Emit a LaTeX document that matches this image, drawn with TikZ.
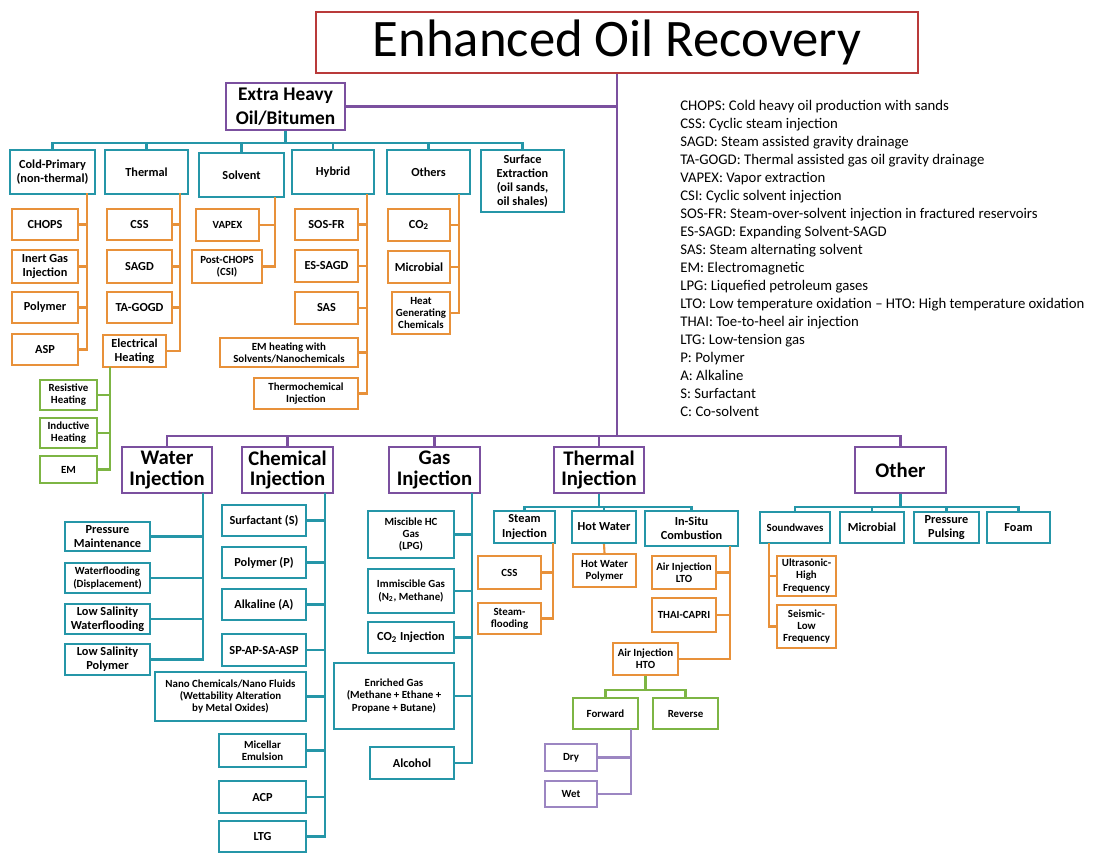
\documentclass[tikz,border=0pt]{standalone}
\usepackage{fontspec}
\setmainfont{Carlito}

\definecolor{eorred}{HTML}{B93A3A}
\definecolor{epurple}{HTML}{7B509F}
\definecolor{eteal}{HTML}{2596A8}
\definecolor{eorange}{HTML}{E8913A}
\definecolor{egreen}{HTML}{7DB544}
\definecolor{elilac}{HTML}{9C86C2}

\begin{document}
\begin{tikzpicture}[x=0.02cm,y=-0.02cm,
    wh/.style 2 args={minimum width=#1*0.02cm,minimum height=#2*0.02cm},
    lbl/.style={draw,rectangle,line width=1.3pt,align=center,inner sep=0.5pt,
      font=\bfseries\fontsize{7}{8}\selectfont},
    sm/.style={font=\bfseries\fontsize{6.2}{6.9}\selectfont},
    pbox/.style={lbl,draw=epurple,font=\bfseries\fontsize{11.8}{11.8}\selectfont},
    tbox/.style={lbl,draw=eteal},
    obox/.style={lbl,draw=eorange},
    gbox/.style={lbl,draw=egreen},
    lbox/.style={lbl,draw=elilac},
    pl/.style={epurple,line width=1.2pt},
    tl/.style={eteal,line width=1.2pt},
    ol/.style={eorange,line width=1.2pt},
    gl/.style={egreen,line width=1.2pt},
    ll/.style={elilac,line width=1.2pt}]
  \useasboundingbox (0,0) rectangle (1102,853);

  % title and main trunk
  \node[lbl,draw=eorred,wh={602}{61},font=\fontsize{30}{32}\selectfont] (eor) at (617,42.5) {Enhanced Oil Recovery};
  \node[pbox,wh={119}{47},font=\bfseries\fontsize{11}{14}\selectfont] (xh) at (285.5,106.5) {Extra Heavy\\Oil/Bitumen};
  \coordinate (busB) at (617,436);
  \draw[pl] (eor.south) -- (busB);
  \draw[pl] (xh.east) -- (xh.east -| eor.south);

  % legend
  \node[anchor=north west,align=left,inner sep=0pt,font=\fontsize{8.4}{10.25}\selectfont] (legend) at (680,100) {%
    CHOPS: Cold heavy oil production with sands\\
    CSS: Cyclic steam injection\\
    SAGD: Steam assisted gravity drainage\\
    TA-GOGD: Thermal assisted gas oil gravity drainage\\
    VAPEX: Vapor extraction\\
    CSI: Cyclic solvent injection\\
    SOS-FR: Steam-over-solvent injection in fractured reservoirs\\
    ES-SAGD: Expanding Solvent-SAGD\\
    SAS: Steam alternating solvent\\
    EM: Electromagnetic\\
    LPG: Liquefied petroleum gases\\
    LTO: Low temperature oxidation -- HTO: High temperature oxidation\\
    THAI: Toe-to-heel air injection\\
    LTG: Low-tension gas\\
    P: Polymer\\
    A: Alkaline\\
    S: Surfactant\\
    C: Co-solvent};

  % extra heavy oil / bitumen
  \node[tbox,wh={85}{44}] (cold) at (52.5,172) {Cold-Primary\\(non-thermal)};
  \node[tbox,wh={83}{44}] (thermal) at (146.5,172) {Thermal};
  \node[tbox,wh={85}{44}] (solvent) at (241.5,175) {Solvent};
  \node[tbox,wh={82}{44}] (hybrid) at (333,172) {Hybrid};
  \node[tbox,wh={83}{44}] (others) at (428.5,172) {Others};
  \node[tbox,wh={83}{62}] (surface) at (522.5,181) {Surface\\Extraction\\(oil sands,\\oil shales)};
  \coordinate (xhB) at (285.5,143);
  \draw[tl] (xh.south) -- (xhB);
  \foreach \n in {cold,thermal,solvent,hybrid,others,surface}
    \draw[tl] (\n.north) |- (xhB);

  \node[obox,wh={66}{31}] (chops) at (45,224.5) {CHOPS};
  \node[obox,wh={66}{33}] (inert) at (45,266.5) {Inert Gas\\Injection};
  \node[obox,wh={66}{31}] (cpoly) at (45,307.5) {Polymer};
  \node[obox,wh={66}{31}] (asp) at (45,349.5) {ASP};
  \coordinate (cpT) at (87,193);
  \draw[ol] (cpT) |- (asp.east);
  \foreach \n in {chops,inert,cpoly}
    \draw[ol] (\n.east) -- (\n.east -| cpT);

  \node[obox,wh={65}{31}] (css) at (139.5,224.5) {CSS};
  \node[obox,wh={65}{33}] (sagd) at (139.5,266.5) {SAGD};
  \node[obox,wh={65}{31}] (tagogd) at (139.5,307.5) {TA-GOGD};
  \node[obox,wh={63}{32}] (elec) at (134.5,351) {Electrical\\Heating};
  \coordinate (thT) at (180,193);
  \draw[ol] (thT) |- (elec.east);
  \foreach \n in {css,sagd,tagogd}
    \draw[ol] (\n.east) -- (\n.east -| thT);

  \node[gbox,sm,wh={57}{30}] (resist) at (68.5,395) {Resistive\\Heating};
  \node[gbox,sm,wh={57}{30}] (induct) at (68.5,433) {Inductive\\Heating};
  \node[gbox,sm,wh={57}{27}] (emg) at (68.5,469.5) {EM};
  \coordinate (ehT) at (110,367);
  \draw[gl] (ehT) |- (emg.east);
  \foreach \n in {resist,induct}
    \draw[gl] (\n.east) -- (\n.east -| ehT);

  \node[obox,sm,wh={63}{32}] (vapex) at (227.5,225) {VAPEX};
  \node[obox,sm,wh={70}{33}] (postchops) at (227,266.5) {Post-CHOPS\\(CSI)};
  \coordinate (svT) at (275,197);
  \draw[ol] (svT) |- (postchops.east);
  \draw[ol] (vapex.east) -- (vapex.east -| svT);

  \node[obox,wh={63}{31}] (sosfr) at (326.5,224.5) {SOS-FR};
  \node[obox,wh={63}{32}] (essagd) at (326.5,266) {ES-SAGD};
  \node[obox,wh={63}{32}] (sas) at (326.5,308) {SAS};
  \node[obox,sm,wh={138}{29}] (emheat) at (289,352.5) {EM heating with\\Solvents/Nanochemicals};
  \node[obox,sm,wh={104}{31}] (thermo) at (306,393.5) {Thermochemical\\Injection};
  \coordinate (hyT) at (367,194);
  \draw[ol] (hyT) |- (thermo.east);
  \foreach \n in {sosfr,essagd,sas,emheat}
    \draw[ol] (\n.east) -- (\n.east -| hyT);

  \node[obox,wh={62}{32}] (co2) at (419,225) {CO\textsubscript{2}};
  \node[obox,wh={62}{32}] (micro) at (419,267) {Microbial};
  \node[obox,sm,wh={58}{42}] (heatgen) at (421,313) {Heat\\Generating\\Chemicals};
  \coordinate (otT) at (459,194);
  \draw[ol] (otT) |- (heatgen.east);
  \foreach \n in {co2,micro}
    \draw[ol] (\n.east) -- (\n.east -| otT);

  % conventional EOR
  \node[pbox,wh={90}{46}] (water) at (167,470) {Water\\Injection};
  \node[pbox,wh={91}{46}] (chem) at (287.5,470) {Chemical\\Injection};
  \node[pbox,wh={91}{46}] (gas) at (434.5,470) {Gas\\Injection};
  \node[pbox,wh={90}{46}] (thermi) at (599,470) {Thermal\\Injection};
  \node[pbox,wh={91}{46}] (other) at (900.5,470) {Other};
  \foreach \n in {water,chem,gas,thermi,other}
    \draw[pl] (\n.north) |- (busB);

  \node[tbox,wh={85}{29}] (press) at (107.5,536.5) {Pressure\\Maintenance};
  \node[tbox,sm,wh={85}{30}] (wflood) at (107.5,578) {Waterflooding\\(Displacement)};
  \node[tbox,wh={85}{30}] (lsw) at (107.5,619) {Low Salinity\\Waterflooding};
  \node[tbox,wh={85}{31}] (lsp) at (107.5,659.5) {Low Salinity\\Polymer};
  \coordinate (wiT) at (203,493);
  \draw[tl] (wiT) |- (lsp.east);
  \foreach \n in {press,wflood,lsw}
    \draw[tl] (\n.east) -- (\n.east -| wiT);

  \node[tbox,wh={84}{31}] (surf) at (264,520.5) {Surfactant (S)};
  \node[tbox,wh={84}{31}] (cpol) at (264,562.5) {Polymer (P)};
  \node[tbox,wh={84}{31}] (alk) at (264,604.5) {Alkaline (A)};
  \node[tbox,wh={84}{32}] (spap) at (264,650) {SP-AP-SA-ASP};
  \node[tbox,sm,wh={151}{49}] (nano) at (230.5,696.5) {Nano Chemicals/Nano Fluids\\(Wettability Alteration\\by Metal Oxides)};
  \node[tbox,sm,wh={87}{33}] (mic) at (262.5,750.5) {Micellar\\Emulsion};
  \node[tbox,wh={87}{32}] (acp) at (262.5,797) {ACP};
  \node[tbox,wh={87}{31}] (ltg) at (262.5,836.5) {LTG};
  \coordinate (ciT) at (325,493);
  \draw[tl] (ciT) |- (ltg.east);
  \foreach \n in {surf,cpol,alk,spap,nano,mic,acp}
    \draw[tl] (\n.east) -- (\n.east -| ciT);

  \node[tbox,sm,wh={86}{47}] (misc) at (411,534.5) {Miscible HC\\Gas\\(LPG)};
  \node[tbox,sm,wh={86}{44}] (immisc) at (411,591) {Immiscible Gas\\(N\textsubscript{2}, Methane)};
  \node[tbox,wh={86}{31}] (co2i) at (411,637.5) {CO\textsubscript{2} Injection};
  \node[tbox,sm,wh={120}{66}] (enr) at (394,696) {Enriched Gas\\(Methane + Ethane +\\Propane + Butane)};
  \node[tbox,wh={84}{32}] (alc) at (412,763) {Alcohol};
  \coordinate (giT) at (472,493);
  \draw[tl] (giT) |- (alc.east);
  \foreach \n in {misc,immisc,co2i,enr}
    \draw[tl] (\n.east) -- (\n.east -| giT);

  \node[tbox,wh={61}{32}] (steam) at (524.5,527) {Steam\\Injection};
  \node[tbox,wh={64}{32}] (hotw) at (604,527) {Hot Water};
  \node[tbox,wh={93}{35}] (insitu) at (691.5,528.5) {In-Situ\\Combustion};
  \coordinate (tiB) at (599,507);
  \draw[tl] (thermi.south) -- (tiB);
  \foreach \n in {steam,hotw,insitu}
    \draw[tl] (\n.north) |- (tiB);

  \node[obox,sm,wh={63}{33}] (tcss) at (509.5,572.5) {CSS};
  \node[obox,sm,wh={63}{31}] (sflood) at (509.5,618.5) {Steam-\\flooding};
  \coordinate (stT) at (553,543);
  \draw[ol] (stT) |- (sflood.east);
  \draw[ol] (tcss.east) -- (tcss.east -| stT);

  \node[obox,sm,wh={63}{33}] (hwpoly) at (604.5,570.5) {Hot Water\\Polymer};
  \draw[ol] (hotw.south) -- (hwpoly.north);

  \node[obox,sm,wh={64}{33}] (lto) at (684,572.5) {Air Injection\\LTO};
  \node[obox,sm,wh={64}{34}] (thai) at (684,615) {THAI-CAPRI};
  \node[obox,sm,wh={65}{32}] (hto) at (645.5,659) {Air Injection\\HTO};
  \coordinate (isT) at (730,546);
  \draw[ol] (isT) |- (hto.east);
  \foreach \n in {lto,thai}
    \draw[ol] (\n.east) -- (\n.east -| isT);

  \node[gbox,sm,wh={65}{31}] (fwd) at (605.5,713.5) {Forward};
  \node[gbox,sm,wh={65}{31}] (rev) at (685.5,713.5) {Reverse};
  \coordinate (htoB) at (645.5,690);
  \draw[gl] (hto.south) -- (htoB);
  \foreach \n in {fwd,rev}
    \draw[gl] (\n.north) |- (htoB);

  \node[lbox,sm,wh={52}{27}] (dry) at (571,757.5) {Dry};
  \node[lbox,sm,wh={52}{26}] (wet) at (571,794) {Wet};
  \coordinate (fwT) at (631,729);
  \draw[ll] (fwT) |- (wet.east);
  \draw[ll] (dry.east) -- (dry.east -| fwT);

  \node[tbox,sm,wh={70}{31}] (sound) at (795,527.5) {Soundwaves};
  \node[tbox,wh={64}{31}] (omic) at (872,527.5) {Microbial};
  \node[tbox,wh={65}{31}] (pulse) at (946.5,527.5) {Pressure\\Pulsing};
  \node[tbox,wh={63}{31}] (foam) at (1018.5,527.5) {Foam};
  \coordinate (otherB) at (900.5,507);
  \draw[tl] (other.south) -- (otherB);
  \foreach \n in {sound,omic,pulse,foam}
    \draw[tl] (\n.north) |- (otherB);

  \node[obox,sm,wh={59}{40}] (ultra) at (806.5,576) {Ultrasonic-\\High\\Frequency};
  \node[obox,sm,wh={59}{43}] (seis) at (806.5,626.5) {Seismic-\\Low\\Frequency};
  \coordinate (swT) at (769,543);
  \draw[ol] (swT) |- (seis.west);
  \draw[ol] (ultra.west) -- (ultra.west -| swT);
\end{tikzpicture}
\end{document}
